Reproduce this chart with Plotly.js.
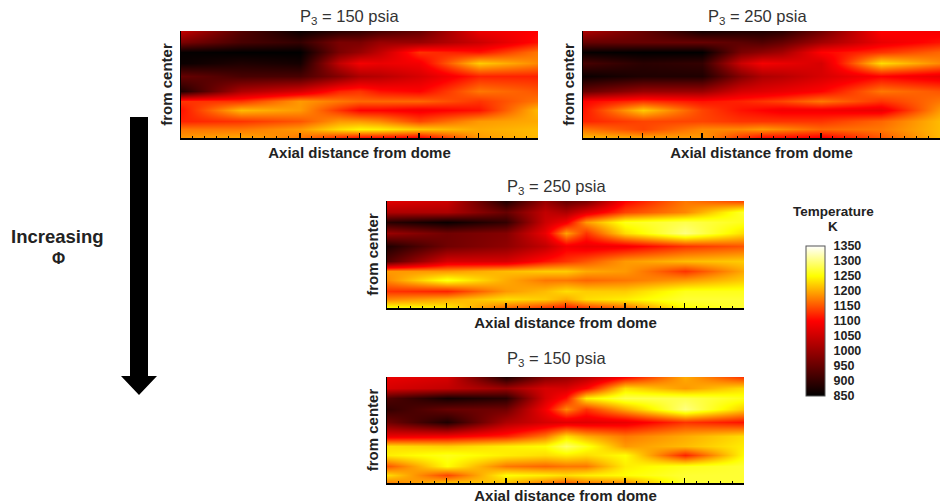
<!DOCTYPE html>
<html><head><meta charset="utf-8">
<script src="https://cdn.plot.ly/plotly-3.0.1.min.js"></script>
<style>html,body{margin:0;padding:0;background:#fff}#c{width:941px;height:504px}</style></head>
<body><div id="c"></div><script>
const axialStations=[0,1,2,2.65,3,3.35,4,5,6];
const radialRows=[0,.1,.2,.3,.42,.56,.65,.74,.84,.92,1];
const panelTitles=['P<sub>3</sub> = 150 psia','P<sub>3</sub> = 250 psia','P<sub>3</sub> = 250 psia','P<sub>3</sub> = 150 psia'];
const colorTicks=[850,900,950,1000,1050,1100,1150,1200,1250,1300,1350];
// temperature per axial station (columns), top to bottom
const panelA=[
[1040,970,855,860,950,880,1130,1110,1120,1170,1190],
[930,920,850,880,920,1020,1130,1210,1130,1170,1200],
[860,900,850,870,920,1060,1190,1190,1150,1190,1170],
[890,970,970,1040,980,1120,1170,1130,1190,1230,1120],
[900,970,1000,1090,1020,1130,1160,1100,1190,1245,1100],
[920,1000,1040,1080,1030,1110,1160,1100,1180,1240,1100],
[950,1000,1130,1090,1060,1100,1160,1090,1140,1220,1090],
[1080,1050,1110,1220,1120,1170,1130,1110,1190,1200,1190],
[1100,1110,1170,1180,1120,1150,1170,1210,1200,1210,1210]];
const panelB=[
[1020,950,855,920,860,950,1100,1110,1120,1170,1210],
[950,950,850,890,880,1000,1130,1220,1140,1140,1200],
[870,950,850,900,880,1000,1110,1140,1140,1180,1190],
[880,940,970,1050,980,1060,1120,1110,1130,1180,1130],
[880,930,990,1090,1020,1070,1130,1100,1130,1190,1100],
[890,950,1010,1080,1030,1080,1140,1090,1130,1180,1100],
[960,1010,1100,1060,1060,1100,1170,1090,1130,1160,1090],
[1100,1080,1130,1230,1100,1170,1130,1080,1160,1170,1150],
[1090,1110,1160,1180,1080,1150,1170,1190,1210,1210,1210]];
const panelC=[
[1070,1020,890,1000,880,930,1190,1180,1130,1180,1260],
[1050,1020,860,960,960,1060,1190,1260,1120,1200,1240],
[880,950,900,980,990,1060,1210,1200,1190,1230,1160],
[1000,1040,1050,1080,1040,1110,1220,1170,1210,1220,1130],
[950,1020,1090,1195,1090,1130,1220,1170,1230,1200,1110],
[970,1070,1190,1130,1080,1150,1200,1160,1220,1230,1130],
[1100,1140,1260,1230,1090,1190,1190,1170,1220,1240,1160],
[1170,1180,1280,1300,1130,1210,1130,1190,1260,1270,1250],
[1140,1270,1260,1230,1150,1220,1200,1220,1260,1270,1270]];
const panelD=[
[1080,1060,930,900,960,1080,1230,1240,1150,1230,1170],
[1060,1040,870,950,880,1090,1220,1260,1250,1140,1220],
[880,1000,890,960,1020,1120,1240,1240,1170,1250,1210],
[980,1060,1060,1090,1060,1170,1250,1230,1160,1240,1170],
[1000,1060,1110,1180,1070,1230,1290,1240,1170,1230,1150],
[1030,1100,1240,1130,1070,1200,1260,1230,1170,1240,1170],
[1100,1230,1280,1200,1080,1170,1190,1250,1240,1250,1180],
[1200,1190,1280,1300,1130,1200,1210,1120,1260,1270,1270],
[1130,1230,1260,1220,1110,1230,1240,1250,1270,1270,1270]];
const panels=[panelA,panelB,panelC,panelD];
const W=941,H=504;
const boxes=[[181,538,31,138],[583,940,31,138],[387,744,201,308],[387,744,377,483]];
const titleAt=[[349,17],[757,17],[556,187],[556,359]];
const px=x=>x/W, py=y=>1-y/H;
const font='"Liberation Sans",Arial,sans-serif';
const note=(x,y,text,size,weight,color)=>({xref:'paper',yref:'paper',x:px(x),y:py(y),xanchor:'center',yanchor:'middle',text,showarrow:false,font:{family:font,size,weight,color}});
const traces=[],layout={width:W,height:H,margin:{l:0,r:0,t:0,b:0},paper_bgcolor:'#fff',plot_bgcolor:'#fff',showlegend:false,
 font:{family:font,color:'#222'},
 coloraxis:{cmin:850,cmax:1350,
  colorscale:[[0,'#000000'],[.5,'#ff0000'],[.8,'#ffff00'],[1,'#ffffff']],
  colorbar:{thickness:19,thicknessmode:'pixels',len:150,lenmode:'pixels',x:px(806),xanchor:'left',xpad:0,y:py(396),yanchor:'bottom',ypad:0,
   tickvals:colorTicks,ticks:'outside',ticklen:6,tickcolor:'rgba(0,0,0,0)',outlinecolor:'#555',outlinewidth:1,tickfont:{family:font,size:12.5,weight:'bold',color:'#222'}}},
 annotations:[],shapes:[]};
panels.forEach((cols,i)=>{
 const n=i?String(i+1):'',b=boxes[i];
 const z=radialRows.map((_,r)=>cols.map(c=>c[r]));
 traces.push({type:'heatmap',x:axialStations,y:radialRows,z,zsmooth:'best',coloraxis:'coloraxis',xaxis:'x'+n,yaxis:'y'+n,hoverinfo:'skip'});
 layout['xaxis'+n]={domain:[px(b[0]),px(b[1])],range:[0,6],anchor:'y'+n,dtick:1,tick0:0,ticks:'inside',ticklen:5,tickwidth:1.5,tickcolor:'#000',
  minor:{dtick:.2,ticks:'inside',ticklen:2,tickwidth:1,tickcolor:'#000'},showticklabels:false,showgrid:false,zeroline:false,showline:true,linewidth:2,linecolor:'#000',
  title:{text:'Axial distance from dome',standoff:8,font:{family:font,size:15,weight:'bold',color:'#222'}}};
 layout['yaxis'+n]={domain:[py(b[3]),py(b[2])],range:[1,0],anchor:'x'+n,showticklabels:false,ticks:'',showgrid:false,zeroline:false,showline:true,linewidth:1.5,linecolor:'#000',
  title:{text:'from center',standoff:3,font:{family:font,size:15,weight:'bold',color:'#222'}}};
 layout.annotations.push(note(titleAt[i][0],titleAt[i][1],panelTitles[i],16.5,'normal','#333'));
});
layout.annotations.push(
 note(833,211,'Temperature',13.5,'bold','#222'),
 note(833,227,'K',13.5,'bold','#222'),
 note(57,236,'Increasing',18.5,'bold','#222'),
 note(58,258,'Φ',16,'bold','#222'));
layout.shapes.push({type:'path',xref:'paper',yref:'paper',fillcolor:'#000',line:{width:0},
 path:`M ${px(130)} ${py(117)} L ${px(148)} ${py(117)} L ${px(148)} ${py(376)} L ${px(157)} ${py(376)} L ${px(139)} ${py(395)} L ${px(121)} ${py(376)} L ${px(130)} ${py(376)} Z`});
Plotly.newPlot('c',traces,layout,{staticPlot:true,displayModeBar:false});
</script></body></html>
